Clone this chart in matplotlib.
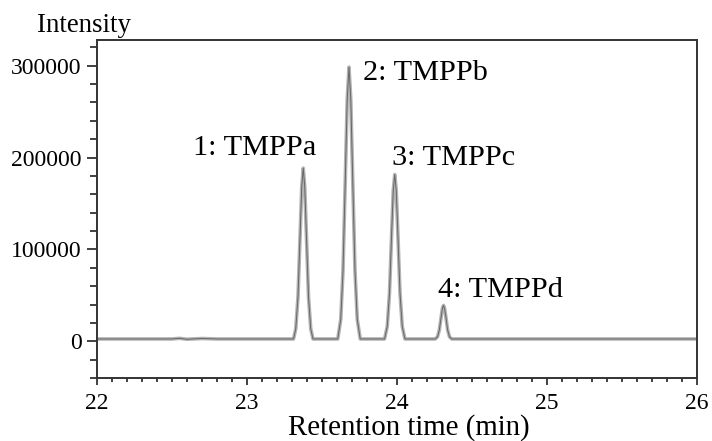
import matplotlib
matplotlib.use("Agg")
import matplotlib.pyplot as plt
from matplotlib.ticker import MultipleLocator

plt.rcParams['font.family'] = ['Liberation Serif', 'DejaVu Serif']

# chromatogram trace (min, counts)
times = [22.0, 22.5, 22.55, 22.6, 22.7, 22.8, 23.3,
         23.31, 23.325, 23.34, 23.355, 23.365, 23.375, 23.385, 23.395, 23.41, 23.425, 23.44,
         23.605, 23.625, 23.64, 23.655, 23.668, 23.68, 23.692, 23.705, 23.72, 23.735, 23.755,
         23.917, 23.935, 23.95, 23.965, 23.975, 23.985, 23.995, 24.005, 24.02, 24.035, 24.053,
         24.255, 24.27, 24.282, 24.295, 24.303, 24.31, 24.317, 24.325, 24.338, 24.35, 24.365,
         26.0]
intensity = [2500, 2500, 3200, 2200, 3000, 2500, 2500,
             2500, 13500, 48500, 120500, 168000, 188500, 168000, 120500, 48500, 13500, 2500,
             2500, 23800, 76500, 174500, 263000, 298500, 263000, 174500, 76500, 23800, 2500,
             2500, 16100, 52500, 120500, 164000, 181500, 164000, 120500, 52500, 16100, 2500,
             2500, 4800, 12000, 27300, 36100, 39000, 36100, 27300, 12000, 4800, 2500,
             2500]

peak_labels = ["1: TMPPa", "2: TMPPb", "3: TMPPc", "4: TMPPd"]
label_x = [22.64, 23.773, 23.967, 24.273]
label_y = [202500, 284600, 192000, 48300]

fig = plt.figure(figsize=(7.12, 4.41), dpi=100)
ax = fig.add_axes([97/712, 63/441, 600/712, 338/441])

ax.plot(times, intensity, color='#b4b4b4', lw=2.6, solid_joinstyle='round')
ax.plot(times, intensity, color='#666666', lw=0.7)

for t, x, y in zip(peak_labels, label_x, label_y):
    ax.text(x, y, t, fontsize=21.8, ha='left', va='baseline')

ax.set_xlim(22, 26)
ax.set_ylim(-40000, 328000)
ax.set_xticks([22, 23, 24, 25, 26])
ax.set_yticks([0, 100000, 200000, 300000])
ax.xaxis.set_minor_locator(MultipleLocator(0.1))
ax.yaxis.set_minor_locator(MultipleLocator(20000))

for s in ax.spines.values():
    s.set_color('#333333')
    s.set_linewidth(1.4)
ax.tick_params(which='major', axis='y', length=7, width=1.3, color='#333333', labelsize=17, pad=4)
ax.tick_params(which='minor', axis='y', length=5, width=1.3, color='#333333')
ax.tick_params(which='major', axis='x', length=5, width=1.3, color='#333333', labelsize=17, pad=6)
ax.tick_params(which='minor', axis='x', length=3, width=1.3, color='#333333')

fig.text(37/712, 1 - 32/441, "Intensity", fontsize=19.4, ha='left', va='baseline')
fig.text(409/712, 1 - 435/441, "Retention time (min)", fontsize=20.8, ha='center', va='baseline')

fig.savefig("out.png", dpi=100)
